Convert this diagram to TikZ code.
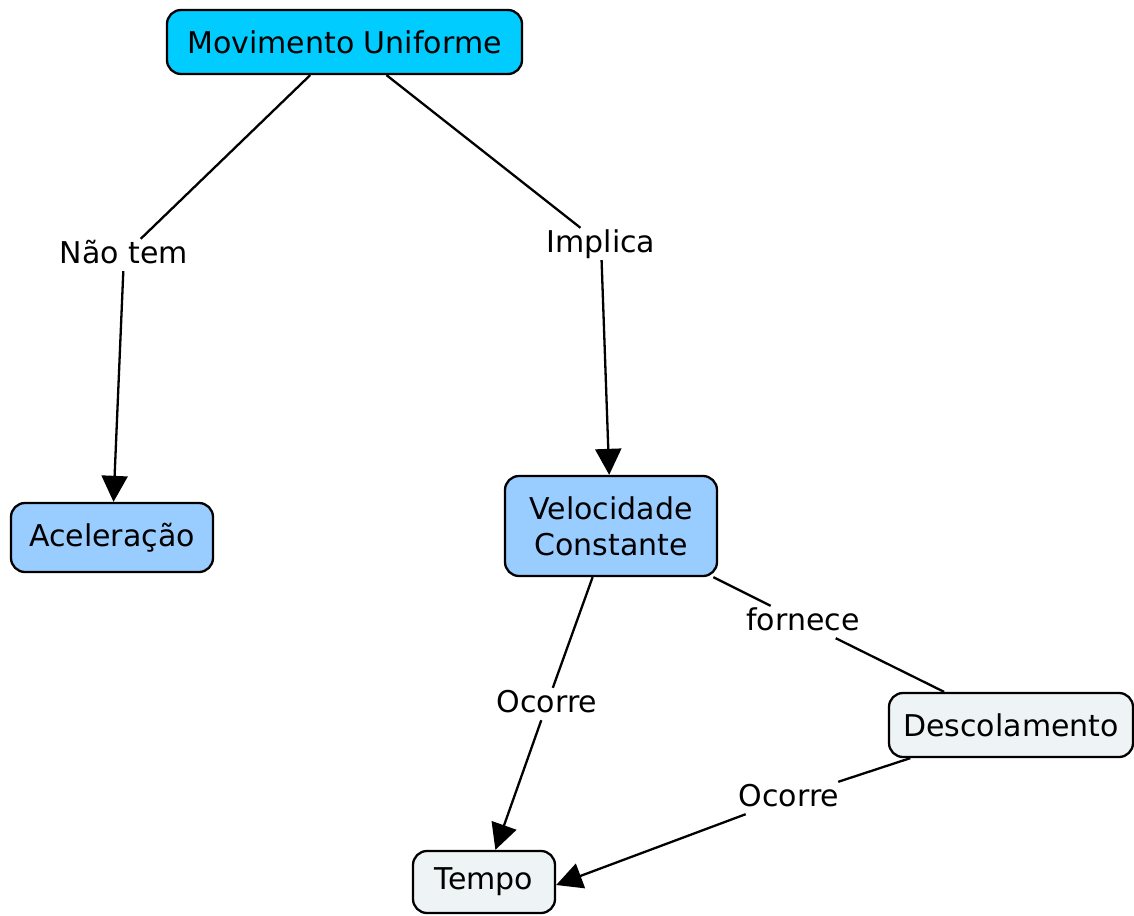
\documentclass[tikz,border=0pt]{standalone}
\usepackage{fontspec}
\setmainfont{DejaVu Sans}
\usetikzlibrary{arrows.meta}
\definecolor{cmcyan}{RGB}{0,204,255}
\definecolor{cmblue}{RGB}{153,204,255}
\definecolor{cmpale}{RGB}{238,243,246}
\tikzset{
  concept/.style={draw=black, line width=2.3pt, rounded corners=14pt, align=center,
    font=\fontsize{30}{36}\selectfont, inner sep=0pt},
  linklabel/.style={font=\fontsize{30}{36}\selectfont, inner sep=2pt,
    text height=22pt, text depth=6pt},
  conn/.style={line width=2.3pt, black},
  arr/.style={conn, -{Triangle[length=26pt,width=26pt]}},
}
\begin{document}
\begin{tikzpicture}[x=1pt,y=-1pt]
\useasboundingbox (0,0) rectangle (1134,915);
\node[concept, fill=cmcyan, minimum width=355pt, minimum height=64pt] (mu) at (344.5,42) {Movimento Uniforme};
\node[concept, fill=cmblue, minimum width=202pt, minimum height=69pt] (acel) at (112,537.5) {Aceleração};
\node[concept, fill=cmblue, minimum width=212pt, minimum height=100pt] (vc) at (611,526) {Velocidade\\Constante};
\node[concept, fill=cmpale, minimum width=244pt, minimum height=64pt] (desc) at (1011,725) {Descolamento};
\node[concept, fill=cmpale, minimum width=142pt, minimum height=62pt] (tempo) at (484,882) {Tempo};

\node[linklabel] (nt) at (124,255) {Não tem};
\node[linklabel] (imp) at (601,244) {Implica};
\node[linklabel] (forn) at (803,622) {fornece};
\node[linklabel] (oc1) at (547,704) {Ocorre};
\node[linklabel] (oc2) at (789,798) {Ocorre};

\draw[conn] (mu) -- (nt);
\draw[arr] (nt) -- (acel);
\draw[conn] (mu) -- (imp);
\draw[arr] (imp) -- (vc);
\draw[conn] (vc) -- (forn);
\draw[conn] (forn) -- (desc);
\draw[conn] (vc) -- (oc1);
\draw[arr] (oc1) -- (tempo);
\draw[conn] (desc) -- (oc2);
\draw[arr] (oc2) -- ([yshift=-3pt]tempo.east);
\end{tikzpicture}
\end{document}
